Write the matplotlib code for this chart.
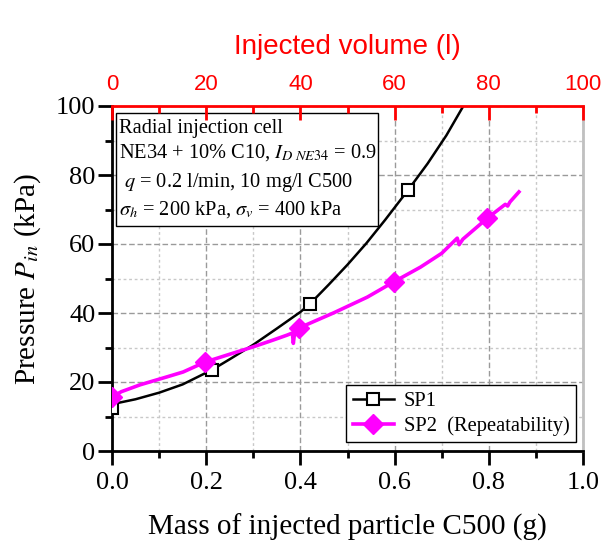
import matplotlib
matplotlib.use('Agg')
import matplotlib.pyplot as plt
from matplotlib.ticker import MultipleLocator, FormatStrFormatter
from matplotlib.patches import Rectangle

# ---------------- data ----------------
sp1_x = [0.0, 0.004, 0.008, 0.05, 0.10, 0.15, 0.212, 0.25, 0.30, 0.35,
         0.40, 0.42, 0.46, 0.50, 0.54, 0.58, 0.629, 0.67, 0.71, 0.746]
sp1_y = [12.5, 12.5, 13.8, 15.0, 16.9, 19.3, 23.5, 26.6, 30.8, 35.5,
         40.3, 42.6, 48.2, 54.0, 60.2, 67.0, 75.7, 83.3, 91.5, 100.0]
sp1_marks = [0, 6, 11, 16]

sp2_x = [0.0, 0.02, 0.06, 0.117, 0.151, 0.198, 0.258, 0.30, 0.343, 0.372,
         0.383, 0.385, 0.388, 0.396, 0.47, 0.542, 0.598, 0.655, 0.700, 0.733,
         0.737, 0.745, 0.797, 0.835, 0.84, 0.845, 0.864]
sp2_y = [15.7, 17.2, 19.2, 21.5, 22.9, 25.8, 28.4, 30.2, 32.2, 33.6,
         34.2, 31.2, 34.6, 35.6, 40.0, 44.6, 49.0, 53.3, 57.3, 61.7,
         59.8, 61.4, 67.5, 71.5, 71.0, 72.2, 75.1]
sp2_marks = [0, 5, 13, 16, 22]

series_labels = ['SP1', 'SP2  (Repeatability)']
x_label = 'Mass of injected particle C500 (g)'
y_label = 'Pressure $P_{in}$ (kPa)'
top_label = 'Injected volume (l)'
info_lines = ['Radial injection cell',
              r'NE34 + 10% C10, $I_{\mathit{D\ NE34}}$ = 0.9',
              r' $q$ = 0.2 l/min, 10 mg/l C500',
              r'$\sigma_h$ = 200 kPa, $\sigma_v$ = 400 kPa']

# ---------------- style ----------------
serif = ['Liberation Serif', 'DejaVu Serif']
sans = ['Liberation Sans', 'DejaVu Sans']
plt.rcParams['font.family'] = serif
plt.rcParams['mathtext.fontset'] = 'stix'

fig = plt.figure(figsize=(6.05, 5.46), dpi=100)
ax = fig.add_axes([112/605, 95/546, 471/605, 345/546])

ax.plot(sp1_x, sp1_y, color='black', lw=1.8, marker='s', ms=9,
        mfc='white', mec='black', mew=1.5, markevery=sp1_marks,
        label=series_labels[0], zorder=4)
ax.plot(sp2_x, sp2_y, color='#ff00ff', lw=2.6, marker='D', ms=10,
        mfc='#ff00ff', mec='#ff00ff', markevery=sp2_marks,
        label=series_labels[1], zorder=5)

ax.set_xlim(0, 1.0)
ax.set_ylim(0, 100)
ax.xaxis.set_major_locator(MultipleLocator(0.2))
ax.xaxis.set_minor_locator(MultipleLocator(0.1))
ax.yaxis.set_major_locator(MultipleLocator(20))
ax.yaxis.set_minor_locator(MultipleLocator(10))
ax.xaxis.set_major_formatter(FormatStrFormatter('%.1f'))

ax.set_axisbelow(True)
ax.grid(which='major', color='#9a9a9a', ls=(0, (4, 2)), lw=1)
ax.grid(which='minor', color='#c8c8c8', ls=(0, (2, 2)), lw=1)

ax.tick_params(which='major', direction='out', length=10, width=2,
               labelsize=19, top=False, right=False, pad=5)
ax.tick_params(which='minor', direction='out', length=5, width=2,
               top=False, right=False)
ax.tick_params(axis='y', which='major', pad=2)
for lab in ax.get_xticklabels() + ax.get_yticklabels():
    lab.set_family(serif)

for s in ['left', 'bottom']:
    ax.spines[s].set_linewidth(2)
ax.spines['top'].set_visible(False)
ax.spines['right'].set_color('#c0c0c0')
ax.spines['right'].set_linewidth(2)

ax.set_xlabel(x_label, fontsize=21, labelpad=14)
ax.set_ylabel(y_label, fontsize=21, labelpad=9)

# top axis
ax2 = ax.twiny()
ax2.set_xlim(0, 100)
ax2.xaxis.set_major_locator(MultipleLocator(20))
ax2.xaxis.set_minor_locator(MultipleLocator(10))
ax2.tick_params(which='major', direction='in', length=10, width=2,
                colors='#ff0000', labelsize=16, pad=8)
ax2.tick_params(which='minor', direction='in', length=5, width=2,
                colors='#ff0000')
for lab in ax2.get_xticklabels():
    lab.set_family(sans)
for s in ['left', 'right', 'bottom']:
    ax2.spines[s].set_visible(False)
ax2.spines['top'].set_color('#ff0000')
ax2.spines['top'].set_linewidth(2)
ax2.set_xlabel(top_label, fontsize=20, color='#ff0000', labelpad=14,
               family=sans)
ax2.grid(False)

# info box
ax.add_patch(Rectangle((0.0085, 0.652), 0.557, 0.328, transform=ax.transAxes,
                       facecolor='white', edgecolor='black', lw=1, zorder=6))
ys = [0.921, 0.851, 0.764, 0.686]
for txt, yy in zip(info_lines, ys):
    ax.text(0.015, yy, txt, transform=ax.transAxes, fontsize=14.7,
            va='baseline', ha='left', zorder=7)

leg = ax.legend(loc='lower right', bbox_to_anchor=(0.985, 0.026),
                fontsize=14.8, frameon=True, fancybox=False, edgecolor='black',
                framealpha=1, borderaxespad=0, handlelength=2.0,
                borderpad=0.3, labelspacing=0.25, handletextpad=0.5,
                numpoints=1)
leg.get_frame().set_linewidth(1)
leg.set_zorder(8)

fig.savefig('out.png', dpi=100)
